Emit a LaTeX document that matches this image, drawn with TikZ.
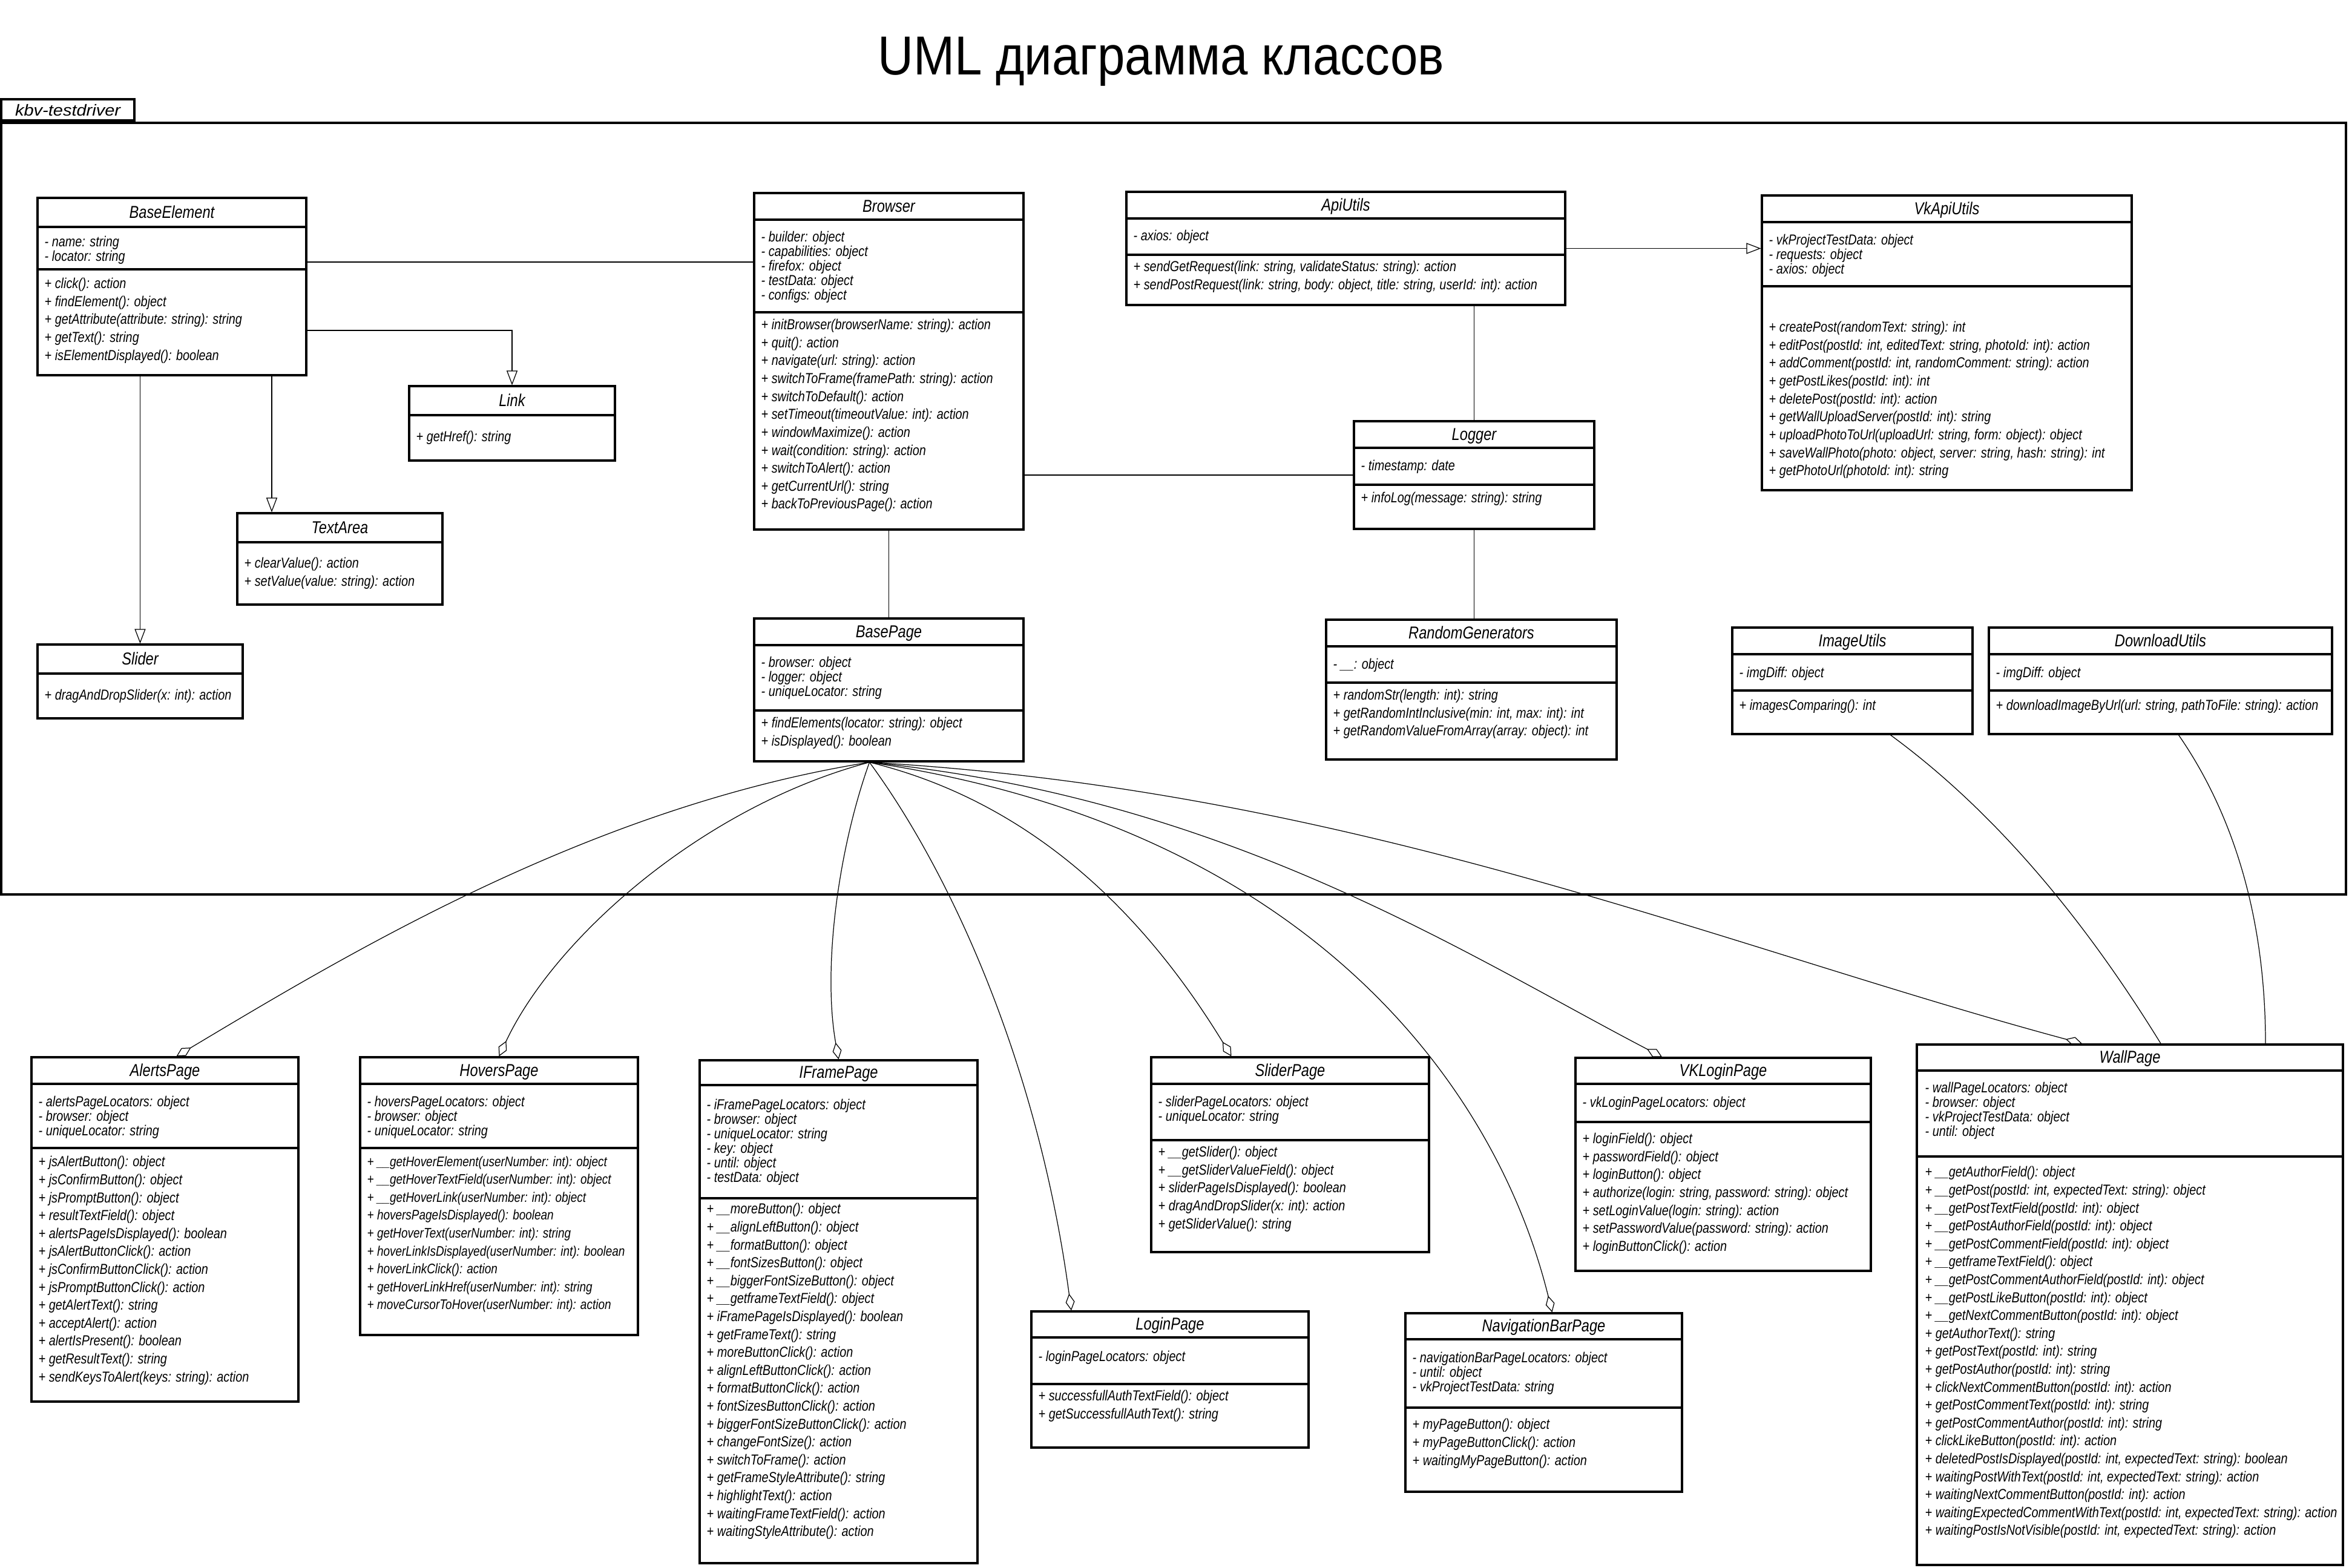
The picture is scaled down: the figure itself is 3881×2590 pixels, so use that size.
\documentclass[tikz,border=0pt]{standalone}
\usepackage{fontspec}
\newfontfamily\umlfont[FakeStretch=0.83]{Liberation Sans}
\newfontfamily\titlefont[FakeStretch=0.9]{Liberation Sans}
\newfontfamily\tabfont[FakeStretch=1.1]{Liberation Sans}
\usetikzlibrary{calc,arrows.meta,fit}
\tikzset{
  classbox/.style={draw=black, line width=0.9pt, inner sep=0pt, fill=white},
  classrule/.style={draw=black, line width=0.9pt},
  classname/.style={font=\umlfont\itshape\fontsize{8.1pt}{9.7pt}\selectfont,
    inner sep=0pt, text height=5.8pt, text depth=0pt},
  attrs/.style={font=\umlfont\itshape\fontsize{6.8pt}{6.83pt}\selectfont,
    align=left, anchor=north west, inner sep=0pt, yshift=5.2pt,
    execute at begin node={\rule{0pt}{5.2pt}}},
  methods/.style={attrs, font=\umlfont\itshape\fontsize{6.8pt}{8.42pt}\selectfont},
  narrow/.style={font=\umlfont\itshape\fontsize{6.5pt}{8.42pt}\selectfont},
  assoc/.style={draw=black, line width=0.35pt},
  inherit/.style={assoc, -{Triangle[open, length=0.24cm, width=0.18cm]}},
  agg/.style={assoc, -{Diamond[open, length=0.28cm, width=0.15cm]}},
  pkgframe/.style={draw=black, line width=1.1pt, inner sep=0pt},
  pkgtab/.style={draw=black, line width=1.1pt, inner sep=0pt, minimum width=2.2cm,
    minimum height=0.35cm, font=\tabfont\itshape\fontsize{7.5pt}{9pt}\selectfont,
    text height=5.4pt, text depth=0pt},
  diagtitle/.style={font=\titlefont\fontsize{25.8pt}{30pt}\selectfont, inner sep=0pt}
}
% class box: name, top left, bottom right, header rule, divider rule, title
\newcommand{\umlclass}[6]{%
  \node[classbox, fit={(#2) (#3)}] (#1) {};
  \draw[classrule] (#1.west |- 0,#4) -- (#1.east |- 0,#4);
  \draw[classrule] (#1.west |- 0,#5) -- (#1.east |- 0,#5);
  \path (#1.north) -- (#1.north |- 0,#4) node[classname, midway] (#1-name) {#6};
}

\begin{document}
\begin{tikzpicture}[x=0.01cm, y=-0.01cm]
  \useasboundingbox[fill=white] (0,0) rectangle (3881,2590);

  \node[diagtitle, anchor=base] (title) at (1918,123) {UML диаграмма классов};

  % package
  \node[pkgframe, fit={(2,203) (3876,1478)}] (pkg) {};
  \node[pkgtab, anchor=south west] (pkg-tab) at (pkg.north west) {kbv-testdriver};

  % elements
  \umlclass{be}{62,327}{506,620}{375}{445}{BaseElement}
  \node[attrs] (be-a) at (73,408) {- name: string\\- locator: string};
  \node[methods] (be-m) at (73,477) {+ click(): action\\+ findElement(): object\\+ getAttribute(attribute: string): string\\+ getText(): string\\+ isElementDisplayed(): boolean};

  \umlclass{link}{676,638}{1016,761}{686}{686}{Link}
  \node[methods] (link-m) at (687,729) {+ getHref(): string};

  \umlclass{ta}{392,848}{731,999}{896}{896}{TextArea}
  \node[methods] (ta-m) at (403,939) {+ clearValue(): action\\+ setValue(value: string): action};

  \umlclass{sl}{62,1065}{401,1187}{1113}{1113}{Slider}
  \node[methods] (sl-m) at (73,1156) {+ dragAndDropSlider(x: int): action};

  % core
  \umlclass{br}{1246,319}{1691,875}{363}{516}{Browser}
  \node[attrs] (br-a) at (1257,400) {- builder: object\\- capabilities: object\\- firefox: object\\- testData: object\\- configs: object};
  \node[methods] (br-m) at (1257,545) {+ initBrowser(browserName: string): action\\+ quit(): action\\+ navigate(url: string): action\\+ switchToFrame(framePath: string): action\\+ switchToDefault(): action\\+ setTimeout(timeoutValue: int): action\\+ windowMaximize(): action\\+ wait(condition: string): action\\+ switchToAlert(): action\\+ getCurrentUrl(): string\\+ backToPreviousPage(): action};

  \umlclass{bp}{1246,1022}{1691,1258}{1066}{1174}{BasePage}
  \node[attrs] (bp-a) at (1257,1103) {- browser: object\\- logger: object\\- uniqueLocator: string};
  \node[methods] (bp-m) at (1257,1203) {+ findElements(locator: string): object\\+ isDisplayed(): boolean};

  % utils
  \umlclass{api}{1861,317}{2586,504}{361}{421}{ApiUtils}
  \node[attrs] (api-a) at (1872,397) {- axios: object};
  \node[methods] (api-m) at (1872,449) {+ sendGetRequest(link: string, validateStatus: string): action\\+ sendPostRequest(link: string, body: object, title: string, userId: int): action};

  \umlclass{log}{2237,696}{2634,874}{740}{801}{Logger}
  \node[attrs] (log-a) at (2248,777) {- timestamp: date};
  \node[methods] (log-m) at (2248,830) {+ infoLog(message: string): string};

  \umlclass{rg}{2191,1024}{2671,1255}{1068}{1128}{RandomGenerators}
  \node[attrs] (rg-a) at (2202,1105) {- \_\_: object};
  \node[methods] (rg-m) at (2202,1157) {+ randomStr(length: int): string\\+ getRandomIntInclusive(min: int, max: int): int\\+ getRandomValueFromArray(array: object): int};

  \umlclass{vk}{2911,323}{3522,810}{367}{473}{VkApiUtils}
  \node[attrs] (vk-a) at (2922,405) {- vkProjectTestData: object\\- requests: object\\- axios: object};
  \node[methods] (vk-m) at (2922,549) {+ createPost(randomText: string): int\\+ editPost(postId: int, editedText: string, photoId: int): action\\+ addComment(postId: int, randomComment: string): action\\+ getPostLikes(postId: int): int\\+ deletePost(postId: int): action\\+ getWallUploadServer(postId: int): string\\+ uploadPhotoToUrl(uploadUrl: string, form: object): object\\+ saveWallPhoto(photo: object, server: string, hash: string): int\\+ getPhotoUrl(photoId: int): string};

  \umlclass{img}{2862,1037}{3259,1213}{1081}{1141}{ImageUtils}
  \node[attrs] (img-a) at (2873,1119) {- imgDiff: object};
  \node[methods] (img-m) at (2873,1173) {+ imagesComparing(): int};

  \umlclass{dl}{3286,1037}{3853,1213}{1081}{1141}{DownloadUtils}
  \node[attrs] (dl-a) at (3297,1119) {- imgDiff: object};
  \node[methods] (dl-m) at (3297,1173) {+ downloadImageByUrl(url: string, pathToFile: string): action};

  % pages
  \umlclass{al}{52,1747}{493,2316}{1791}{1897}{AlertsPage}
  \node[attrs] (al-a) at (63,1829) {- alertsPageLocators: object\\- browser: object\\- uniqueLocator: string};
  \node[methods] (al-m) at (63,1928) {+ jsAlertButton(): object\\+ jsConfirmButton(): object\\+ jsPromptButton(): object\\+ resultTextField(): object\\+ alertsPageIsDisplayed(): boolean\\+ jsAlertButtonClick(): action\\+ jsConfirmButtonClick(): action\\+ jsPromptButtonClick(): action\\+ getAlertText(): string\\+ acceptAlert(): action\\+ alertIsPresent(): boolean\\+ getResultText(): string\\+ sendKeysToAlert(keys: string): action};

  \umlclass{hv}{595,1747}{1054,2206}{1791}{1897}{HoversPage}
  \node[attrs] (hv-a) at (606,1829) {- hoversPageLocators: object\\- browser: object\\- uniqueLocator: string};
  \node[methods, narrow] (hv-m) at (606,1928) {+ \_\_getHoverElement(userNumber: int): object\\+ \_\_getHoverTextField(userNumber: int): object\\+ \_\_getHoverLink(userNumber: int): object\\+ hoversPageIsDisplayed(): boolean\\+ getHoverText(userNumber: int): string\\+ hoverLinkIsDisplayed(userNumber: int): boolean\\+ hoverLinkClick(): action\\+ getHoverLinkHref(userNumber: int): string\\+ moveCursorToHover(userNumber: int): action};

  \umlclass{ifr}{1156,1752}{1615,2583}{1793}{1980}{IFramePage}
  \node[attrs] (ifr-a) at (1167,1834) {- iFramePageLocators: object\\- browser: object\\- uniqueLocator: string\\- key: object\\- until: object\\- testData: object};
  \node[methods] (ifr-m) at (1167,2006) {+ \_\_moreButton(): object\\+ \_\_alignLeftButton(): object\\+ \_\_formatButton(): object\\+ \_\_fontSizesButton(): object\\+ \_\_biggerFontSizeButton(): object\\+ \_\_getframeTextField(): object\\+ iFramePageIsDisplayed(): boolean\\+ getFrameText(): string\\+ moreButtonClick(): action\\+ alignLeftButtonClick(): action\\+ formatButtonClick(): action\\+ fontSizesButtonClick(): action\\+ biggerFontSizeButtonClick(): action\\+ changeFontSize(): action\\+ switchToFrame(): action\\+ getFrameStyleAttribute(): string\\+ highlightText(): action\\+ waitingFrameTextField(): action\\+ waitingStyleAttribute(): action};

  \umlclass{sp}{1902,1747}{2361,2069}{1791}{1884}{SliderPage}
  \node[attrs] (sp-a) at (1913,1829) {- sliderPageLocators: object\\- uniqueLocator: string};
  \node[methods] (sp-m) at (1913,1912) {+ \_\_getSlider(): object\\+ \_\_getSliderValueField(): object\\+ sliderPageIsDisplayed(): boolean\\+ dragAndDropSlider(x: int): action\\+ getSliderValue(): string};

  \umlclass{lp}{1704,2167}{2162,2392}{2210}{2287}{LoginPage}
  \node[attrs] (lp-a) at (1715,2249) {- loginPageLocators: object};
  \node[methods] (lp-m) at (1715,2315) {+ successfullAuthTextField(): object\\+ getSuccessfullAuthText(): string};

  \umlclass{vkl}{2603,1748}{3091,2100}{1791}{1854}{VKLoginPage}
  \node[attrs] (vkl-a) at (2614,1829) {- vkLoginPageLocators: object};
  \node[methods] (vkl-m) at (2614,1890) {+ loginField(): object\\+ passwordField(): object\\+ loginButton(): object\\+ authorize(login: string, password: string): object\\+ setLoginValue(login: string): action\\+ setPasswordValue(password: string): action\\+ loginButtonClick(): action};

  \umlclass{nav}{2322,2170}{2779,2465}{2213}{2326}{NavigationBarPage}
  \node[attrs] (nav-a) at (2333,2252) {- navigationBarPageLocators: object\\- until: object\\- vkProjectTestData: string};
  \node[methods] (nav-m) at (2333,2362) {+ myPageButton(): object\\+ myPageButtonClick(): action\\+ waitingMyPageButton(): action};

  \umlclass{wp}{3167,1726}{3871,2586}{1769}{1911}{WallPage}
  \node[attrs] (wp-a) at (3180,1806) {- wallPageLocators: object\\- browser: object\\- vkProjectTestData: object\\- until: object};
  \node[methods] (wp-m) at (3180,1945) {+ \_\_getAuthorField(): object\\+ \_\_getPost(postId: int, expectedText: string): object\\+ \_\_getPostTextField(postId: int): object\\+ \_\_getPostAuthorField(postId: int): object\\+ \_\_getPostCommentField(postId: int): object\\+ \_\_getframeTextField(): object\\+ \_\_getPostCommentAuthorField(postId: int): object\\+ \_\_getPostLikeButton(postId: int): object\\+ \_\_getNextCommentButton(postId: int): object\\+ getAuthorText(): string\\+ getPostText(postId: int): string\\+ getPostAuthor(postId: int): string\\+ clickNextCommentButton(postId: int): action\\+ getPostCommentText(postId: int): string\\+ getPostCommentAuthor(postId: int): string\\+ clickLikeButton(postId: int): action\\+ deletedPostIsDisplayed(postId: int, expectedText: string): boolean\\+ waitingPostWithText(postId: int, expectedText: string): action\\+ waitingNextCommentButton(postId: int): action\\+ waitingExpectedCommentWithText(postId: int, expectedText: string): action\\+ waitingPostIsNotVisible(postId: int, expectedText: string): action};

  % connectors
  \draw[assoc] (be.east |- 0,433) -- (br.west |- 0,433);
  \draw[inherit] (be.east |- 0,546) -| (link.north);
  \draw[inherit] (be.south -| 449,0) -- (ta.north -| 449,0);
  \draw[inherit] (be.south -| sl.north) -- (sl.north);
  \draw[assoc] (br.south) -- (bp.north);
  \draw[assoc] (br.east |- log.west) -- (log.west);
  \draw[assoc] (api.south -| log.north) -- (log.north);
  \draw[assoc] (log.south) -- (log.south |- rg.north);
  \draw[inherit] (api.east) -- (vk.west |- api.east);
  \draw[assoc] ($(img.south)+(63,0)$) .. controls +(180,132) and +(-120,-195) .. ($(wp.north)+(51,0)$);
  \draw[assoc] ($(dl.south)+(30,0)$) .. controls +(81,117) and +(0,-226) .. ($(wp.north)+(224,0)$);

  \coordinate (bp-foot) at ($(bp.south)+(-32,0)$);
  \draw[agg] (bp-foot) .. controls +(-458,73) and +(286,-171) .. ($(al.north)+(19,0)$);
  \draw[agg] (bp-foot) .. controls +(-275,73) and +(92,-196) .. (hv.north);
  \draw[agg] (bp-foot) .. controls +(-51,142) and +(-27,-152) .. (ifr.north);
  \draw[agg] (bp-foot) .. controls +(134,182) and +(-55,-407) .. ($(lp.north)+(-163,0)$);
  \draw[agg] (bp-foot) .. controls +(299,73) and +(-120,-196) .. ($(sp.north)+(-97,0)$);
  \draw[agg] (bp-foot) .. controls +(734,109) and +(-90,-365) .. ($(nav.north)+(14,0)$);
  \draw[agg] (bp-foot) .. controls +(590,59) and +(-328,-171) .. ($(vkl.north)+(-101,0)$);
  \draw[agg] (bp-foot) .. controls +(802,46) and +(-601,-162) .. ($(wp.north)+(-79,0)$);
\end{tikzpicture}
\end{document}
